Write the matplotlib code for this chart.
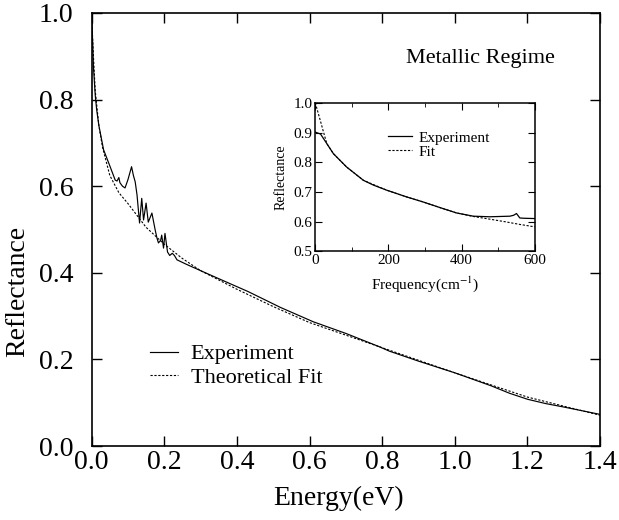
import numpy as np
import matplotlib.pyplot as plt
from matplotlib.ticker import MultipleLocator

plt.rcParams['font.family'] = ['Liberation Serif', 'DejaVu Serif']
plt.rcParams['mathtext.fontset'] = 'stix'

# main panel: reflectance vs energy
energy_exp = [0.0, 0.003, 0.005, 0.01, 0.014, 0.02, 0.033, 0.051, 0.065, 0.07, 0.075,
              0.078, 0.085, 0.092, 0.1, 0.105, 0.11, 0.115, 0.12, 0.125, 0.132, 0.138,
              0.143, 0.15, 0.156, 0.166, 0.175, 0.18, 0.184, 0.19, 0.193, 0.198, 0.202,
              0.209, 0.215, 0.222, 0.228, 0.235, 0.26, 0.3, 0.335, 0.4, 0.43, 0.52,
              0.61, 0.7, 0.79, 0.82, 0.9, 1.0, 1.1, 1.15, 1.2, 1.25, 1.3, 1.4]
refl_exp = [0.99, 0.93, 0.876, 0.81, 0.776, 0.74, 0.684, 0.645, 0.614, 0.612, 0.62,
            0.608, 0.60, 0.596, 0.615, 0.63, 0.645, 0.625, 0.61, 0.58, 0.515, 0.572,
            0.522, 0.561, 0.517, 0.538, 0.499, 0.48, 0.469, 0.475, 0.487, 0.457, 0.491,
            0.448, 0.44, 0.445, 0.44, 0.43, 0.42, 0.405, 0.392, 0.368, 0.357, 0.32,
            0.287, 0.26, 0.23, 0.219, 0.196, 0.169, 0.139, 0.122, 0.108, 0.098, 0.09,
            0.073]

energy_fit = [0.0, 0.005, 0.01, 0.02, 0.03, 0.05, 0.075, 0.1, 0.15, 0.2, 0.25, 0.3,
              0.4, 0.5, 0.6, 0.7, 0.8, 0.9, 1.0, 1.1, 1.2, 1.3, 1.4]
refl_fit = [0.995, 0.90, 0.82, 0.74, 0.69, 0.625, 0.585, 0.56, 0.505, 0.466, 0.433,
            0.405, 0.362, 0.322, 0.285, 0.256, 0.227, 0.198, 0.169, 0.141, 0.113,
            0.092, 0.071]

# inset: reflectance vs frequency
freq_exp = [0, 15, 32, 50, 86, 132, 159, 195, 250, 295, 341, 386, 432, 477, 532,
            542, 550, 559, 570, 600]
refl_inset_exp = [0.902, 0.895, 0.863, 0.829, 0.784, 0.739, 0.723, 0.706, 0.683,
                  0.666, 0.647, 0.629, 0.618, 0.616, 0.618, 0.621, 0.627, 0.612,
                  0.611, 0.61]
freq_fit = [0, 3, 14, 23, 32, 50, 86, 132, 195, 250, 295, 341, 386, 432, 477, 520,
            560, 600]
refl_inset_fit = [1.0, 0.99, 0.942, 0.902, 0.863, 0.829, 0.784, 0.739, 0.706, 0.683,
                  0.666, 0.647, 0.629, 0.617, 0.608, 0.599, 0.59, 0.582]

fig = plt.figure(figsize=(6.19, 5.20), dpi=100)
ax = fig.add_axes([0.148, 0.1423, 0.8215, 0.8327])

ax.plot(energy_exp, refl_exp, color='black', lw=0.85, label='Experiment')
ax.plot(energy_fit, refl_fit, color='black', lw=0.8, linestyle=(0, (2, 1.5)),
        label='Theoretical Fit')

ax.set_xlim(0, 1.4)
ax.set_ylim(0, 1.0)
ax.xaxis.set_major_locator(MultipleLocator(0.2))
ax.yaxis.set_major_locator(MultipleLocator(0.2))
ax.xaxis.set_major_formatter(plt.FuncFormatter(lambda v, p: '%.1f' % v))
ax.yaxis.set_major_formatter(plt.FuncFormatter(lambda v, p: '%.1f' % v))
ax.tick_params(direction='in', length=7, width=1.0, top=True, right=True,
               labelsize=20)
ax.tick_params(axis='x', pad=3)
ax.tick_params(axis='y', pad=13)
for s in ax.spines.values():
    s.set_linewidth(1.2)

ax.set_xlabel('Energy(eV)', fontsize=20)
ax.set_ylabel('Reflectance', fontsize=20)
ax.xaxis.set_label_coords(0.485, -0.093)
ax.yaxis.set_label_coords(-0.12, 0.356)

ax.text(0.764, 0.896, 'Metallic Regime', transform=ax.transAxes, fontsize=16,
        ha='center', va='center')

ax.legend(loc='upper left', bbox_to_anchor=(0.114, 0.236), frameon=False,
          fontsize=16, handlelength=1.3, handletextpad=0.55, borderpad=0,
          borderaxespad=0, labelspacing=0.15)

# inset
ins = fig.add_axes([0.509, 0.517, 0.355, 0.285])
ins.plot(freq_exp, refl_inset_exp, color='black', lw=0.9, label='Experiment')
ins.plot(freq_fit, refl_inset_fit, color='black', lw=0.8, linestyle=(0, (2, 1.5)),
         label='Fit')
ins.set_xlim(0, 600)
ins.set_ylim(0.5, 1.0)
ins.xaxis.set_major_locator(MultipleLocator(200))
ins.xaxis.set_minor_locator(MultipleLocator(100))
ins.yaxis.set_major_locator(MultipleLocator(0.1))
ins.yaxis.set_major_formatter(plt.FuncFormatter(lambda v, p: '%.1f' % v))
ins.tick_params(which='both', direction='in', top=True, right=True, labelsize=11,
                pad=2)
ins.tick_params(which='major', length=5)
ins.tick_params(which='minor', length=3)
for s in ins.spines.values():
    s.set_linewidth(1.1)
ins.set_xlabel('Frequency(cm$^{-1}$)', fontsize=11, labelpad=5)
ins.set_ylabel('Reflectance', fontsize=10, labelpad=4)
ins.legend(loc='upper left', bbox_to_anchor=(0.33, 0.81), frameon=False,
           fontsize=11, handlelength=1.6, handletextpad=0.4, borderpad=0,
           borderaxespad=0, labelspacing=0.0)

fig.savefig('out.png', dpi=100)
